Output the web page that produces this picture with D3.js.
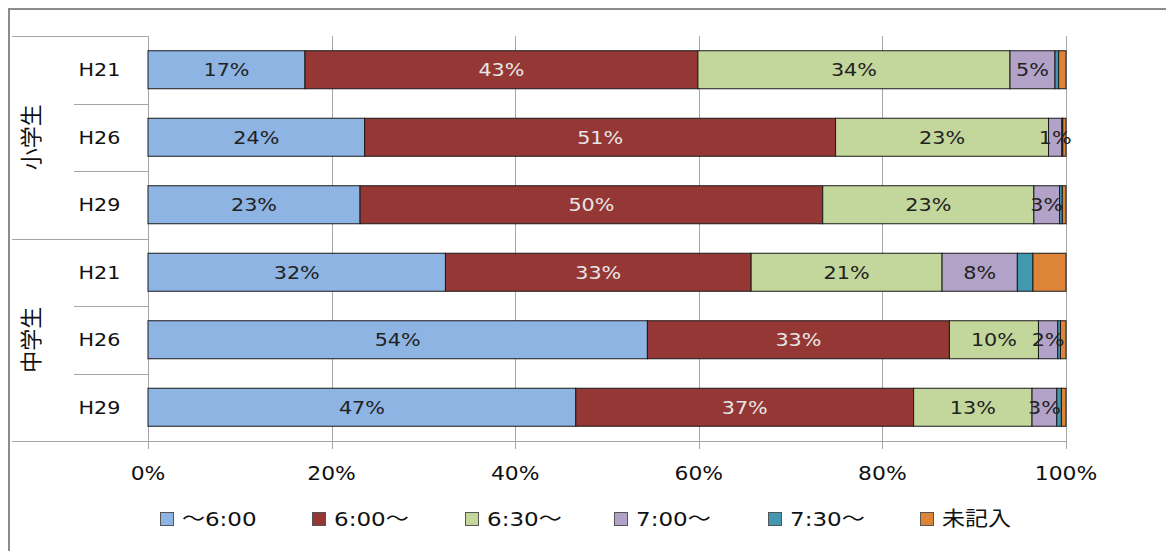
<!DOCTYPE html>
<html>
<head>
<meta charset="utf-8">
<script src="https://cdn.jsdelivr.net/npm/d3@7/dist/d3.min.js"></script>
<style>
  html, body { margin: 0; padding: 0; background: #fff; }
  svg { display: block; }
  text { font-family: "DejaVu Sans", "Noto Sans CJK JP", sans-serif; }
</style>
</head>
<body>
<svg id="chart" width="1168" height="551"></svg>
<script>
// School groups and survey years (rows, top to bottom)
const groups = ["小学生", "中学生"];
const years = ["H21", "H26", "H29"];

// Wake-up time categories
const seriesNames = ["～6:00", "6:00～", "6:30～", "7:00～", "7:30～", "未記入"];

// Percentages per row: 小学生 H21, H26, H29, 中学生 H21, H26, H29
const before600 = [17.1, 23.6, 23.1, 32.4, 54.4, 46.6];
const from600   = [42.8, 51.3, 50.4, 33.3, 32.9, 36.8];
const from630   = [34.0, 23.2, 23.0, 20.8, 9.7, 12.9];
const from700   = [4.9, 1.45, 2.8, 8.2, 2.1, 2.7];
const from730   = [0.4, 0.1, 0.3, 1.7, 0.3, 0.5];
const noAnswer  = [0.8, 0.35, 0.4, 3.6, 0.6, 0.5];

const tickValues = [0, 20, 40, 60, 80, 100];

const colors = ["#8EB4E3", "#953735", "#C3D69B", "#B3A2C7", "#4198AF", "#DD8439"];
const labelColors = ["#222", "#e6e6e6", "#222", "#222", null, null];

const seriesValues = [before600, from600, from630, from700, from730, noAnswer];

// Build row records for d3.stack
const rows = [];
groups.forEach((g, gi) => {
  years.forEach((y, yi) => {
    const idx = gi * years.length + yi;
    const rec = { id: idx, group: g, year: y };
    seriesNames.forEach((s, si) => { rec[s] = seriesValues[si][idx]; });
    rows.push(rec);
  });
});

const svg = d3.select("#chart");

// Text is drawn slightly widened horizontally
const stretch = 1.15;
function placeText(sel, fx, fy) {
  sel.attr("x", 0).attr("y", 0)
    .attr("transform", (d, i) => `translate(${fx(d, i)},${fy(d, i)}) scale(${stretch},1)`);
}

const x = d3.scaleLinear().domain([0, 100]).range([148, 1066]);
const y = d3.scaleBand()
  .domain(rows.map(d => d.id))
  .range([36, 441])
  .paddingInner(0.437)
  .paddingOuter(0.2185);

const gridColor = "#a6a6a6";

// Outer frame
svg.append("path")
  .attr("d", "M9,551 V9 H1166")
  .attr("fill", "none")
  .attr("stroke", "#8c8c8c")
  .attr("stroke-width", 2);

// Vertical gridlines with tick marks below the plot
svg.append("g")
  .selectAll("line")
  .data(tickValues)
  .join("line")
  .attr("x1", d => Math.round(x(d)) + 0.5)
  .attr("x2", d => Math.round(x(d)) + 0.5)
  .attr("y1", 36)
  .attr("y2", 449)
  .attr("stroke", gridColor)
  .attr("stroke-width", 1);

// Category table lines on the left
const step = y.step();
const tableLines = [{ x1: 12, y: 36 }];
rows.forEach((d, i) => {
  const yy = 36 + step * (i + 1);
  const isGroupEdge = (i + 1) % years.length === 0;
  tableLines.push({ x1: isGroupEdge ? 12 : 74, y: yy });
});
svg.append("g")
  .selectAll("line")
  .data(tableLines)
  .join("line")
  .attr("x1", d => d.x1)
  .attr("x2", d => (d.y > 440 ? x(100) : x(0)))
  .attr("y1", d => Math.round(d.y) + 0.5)
  .attr("y2", d => Math.round(d.y) + 0.5)
  .attr("stroke", gridColor)
  .attr("stroke-width", 1);

// Stacked bars
const stack = d3.stack().keys(seriesNames);
const stacked = stack(rows);

const layers = svg.append("g")
  .selectAll("g")
  .data(stacked)
  .join("g")
  .attr("fill", (d, i) => colors[i]);

layers.selectAll("rect")
  .data(d => d)
  .join("rect")
  .attr("x", d => x(d[0]))
  .attr("y", d => y(d.data.id))
  .attr("width", d => x(d[1]) - x(d[0]))
  .attr("height", y.bandwidth())
  .attr("stroke", "#1a1a1a")
  .attr("stroke-width", 1);

// Value labels on the first four series
const labelG = svg.append("g");
stacked.forEach((layer, si) => {
  if (!labelColors[si]) return;
  labelG.selectAll(null)
    .data(layer)
    .join("text")
    .call(placeText,
      d => (x(d[0]) + x(d[1])) / 2,
      d => y(d.data.id) + y.bandwidth() / 2)
    .attr("dy", "0.36em")
    .attr("text-anchor", "middle")
    .attr("font-size", 18)
    .attr("fill", labelColors[si])
    .text(d => Math.round(d[1] - d[0]) + "%");
});

// Year labels
svg.append("g")
  .selectAll("text")
  .data(rows)
  .join("text")
  .call(placeText, () => 99.5, d => y(d.id) + y.bandwidth() / 2)
  .attr("dy", "0.36em")
  .attr("text-anchor", "middle")
  .attr("font-size", 18)
  .attr("fill", "#111")
  .text(d => d.year);

// Group labels, rotated to read bottom-to-top
svg.append("g")
  .selectAll("text")
  .data(groups)
  .join("text")
  .attr("transform", (d, gi) => {
    const cy = 36 + step * years.length * (gi + 0.5);
    return `translate(31,${cy}) rotate(-90)`;
  })
  .attr("dy", "0.36em")
  .attr("text-anchor", "middle")
  .attr("font-size", 22)
  .attr("fill", "#111")
  .style("font-family", "'Noto Sans CJK JP', sans-serif")
  .text(d => d);

// Bottom axis tick labels
svg.append("g")
  .selectAll("text")
  .data(tickValues)
  .join("text")
  .call(placeText, d => x(d), () => 473)
  .attr("dy", "0.36em")
  .attr("text-anchor", "middle")
  .attr("font-size", 19)
  .attr("fill", "#111")
  .text(d => d + "%");

// Legend
const legendPos = [160, 312, 465, 614, 768, 920];
const legend = svg.append("g")
  .selectAll("g")
  .data(seriesNames)
  .join("g")
  .attr("transform", (d, i) => `translate(${legendPos[i]},519)`);
legend.append("rect")
  .attr("x", 0.5)
  .attr("y", -6.5)
  .attr("width", 13)
  .attr("height", 13)
  .attr("fill", (d, i) => colors[i])
  .attr("stroke", "#555")
  .attr("stroke-width", 1);
legend.append("text")
  .call(placeText, () => 22, () => 0)
  .attr("dy", "0.36em")
  .attr("font-size", 20)
  .attr("fill", "#111")
  .text(d => d);
</script>
</body>
</html>
